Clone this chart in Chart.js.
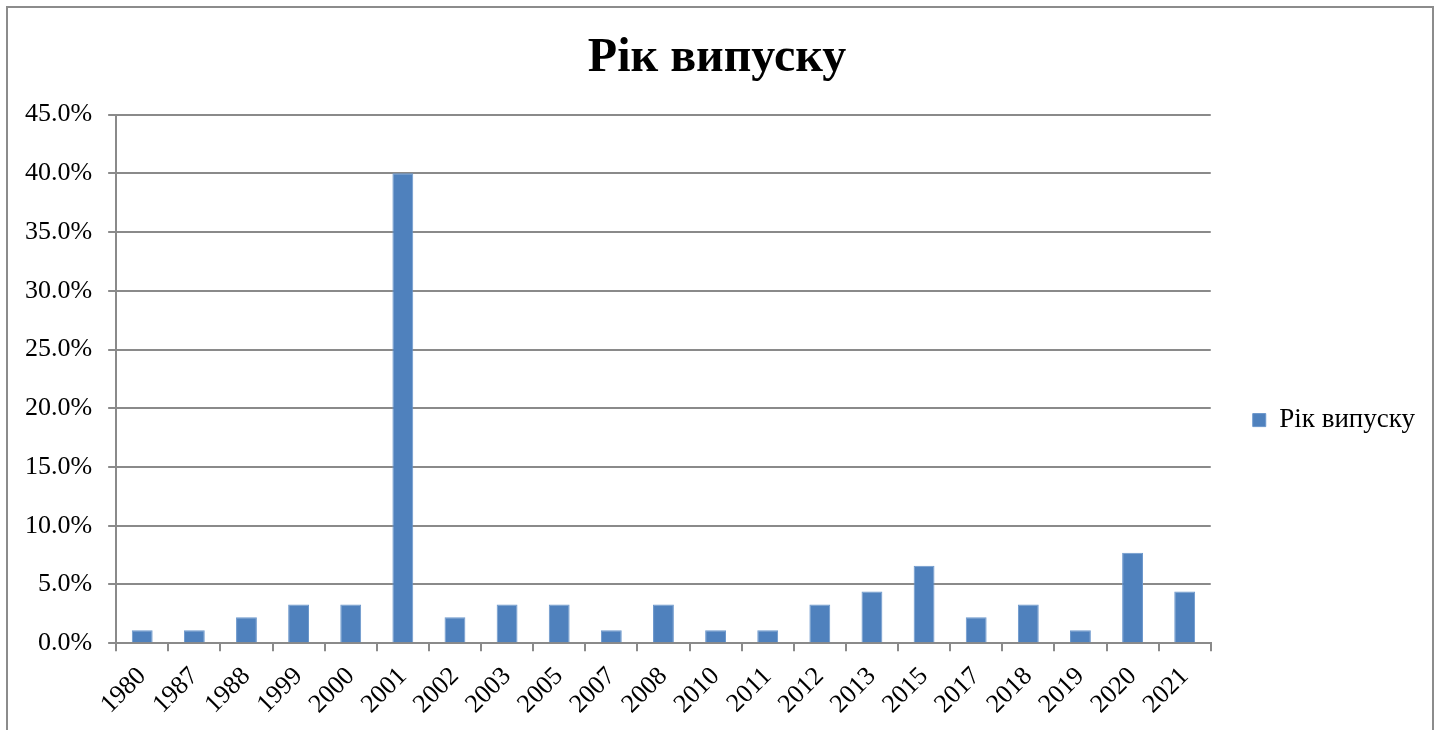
<!DOCTYPE html>
<html>
<head>
<meta charset="utf-8">
<title>Рік випуску</title>
<script src="https://cdn.jsdelivr.net/npm/chart.js@4/dist/chart.umd.min.js"></script>
<style>
    html, body { margin: 0; padding: 0; background: #fff; overflow: hidden; }
    #wrap { width: 1440px; height: 730px; position: relative; }
</style>
</head>
<body>
<div id="wrap"><canvas id="yearChart" width="1440" height="730"></canvas></div>
<script>
// Data
const years = ['1980', '1987', '1988', '1999', '2000', '2001', '2002', '2003', '2005', '2007',
               '2008', '2010', '2011', '2012', '2013', '2015', '2017', '2018', '2019', '2020', '2021'];
const shares = [1.1, 1.1, 2.2, 3.3, 3.3, 40.0, 2.2, 3.3, 3.3, 1.1,
                3.3, 1.1, 1.1, 3.3, 4.4, 6.6, 2.2, 3.3, 1.1, 7.7, 4.4];
const seriesName = 'Рік випуску';
const yTicks = [0, 5, 10, 15, 20, 25, 30, 35, 40, 45];

const FONT = "'Liberation Serif', 'Times New Roman', serif";
const GRID = '#8a8a8a';

// white page + outer frame like the Word/Excel chart border
const framePlugin = {
    id: 'frame',
    beforeDraw(chart) {
        const c = chart.ctx;
        c.save();
        c.fillStyle = '#fff';
        c.fillRect(0, 0, chart.width, chart.height);
        c.strokeStyle = '#8c8c8c';
        c.lineWidth = 2;
        c.strokeRect(7, 7, 1426, 760);
        c.restore();
    }
};

new Chart(document.getElementById('yearChart'), {
    type: 'bar',
    data: {
        labels: years,
        datasets: [{
            label: seriesName,
            data: shares,
            backgroundColor: '#4f81bd',
            borderColor: '#6b97cc',
            borderWidth: 1,
            barPercentage: 0.4,
            categoryPercentage: 1.0
        }]
    },
    options: {
        responsive: false,
        animation: false,
        layout: {
            padding: { left: 9, right: 15, top: 30, bottom: 0 }
        },
        plugins: {
            title: {
                display: true,
                text: seriesName,
                color: '#000',
                font: { family: FONT, size: 48, weight: 'bold' },
                padding: { top: 0, bottom: 27 }
            },
            legend: {
                display: true,
                position: 'right',
                // empty legend title only pushes the single item down a bit
                title: {
                    display: true,
                    text: '',
                    font: { size: 1 },
                    padding: { top: 0, bottom: 79 }
                },
                labels: {
                    color: '#000',
                    font: { family: FONT, size: 27 },
                    boxWidth: 13,
                    boxHeight: 13,
                    padding: 42
                }
            },
            tooltip: { enabled: false }
        },
        scales: {
            x: {
                offset: true,
                grid: {
                    offset: true,
                    drawOnChartArea: false,
                    drawTicks: true,
                    tickLength: 8,
                    color: GRID,
                    lineWidth: 2
                },
                border: { display: true, color: GRID, width: 2 },
                ticks: {
                    color: '#000',
                    font: { family: FONT, size: 26 },
                    minRotation: 45,
                    maxRotation: 45,
                    autoSkip: false,
                    padding: 10
                }
            },
            y: {
                min: 0,
                max: 45,
                afterBuildTicks(axis) {
                    axis.ticks = yTicks.map(v => ({ value: v }));
                },
                grid: {
                    color: GRID,
                    lineWidth: 2,
                    drawTicks: true,
                    tickLength: 8
                },
                border: { display: true, color: GRID, width: 2 },
                ticks: {
                    color: '#000',
                    font: { family: FONT, size: 26 },
                    padding: 16,
                    callback: v => v.toFixed(1) + '%'
                }
            }
        }
    },
    plugins: [framePlugin]
});
</script>
</body>
</html>
